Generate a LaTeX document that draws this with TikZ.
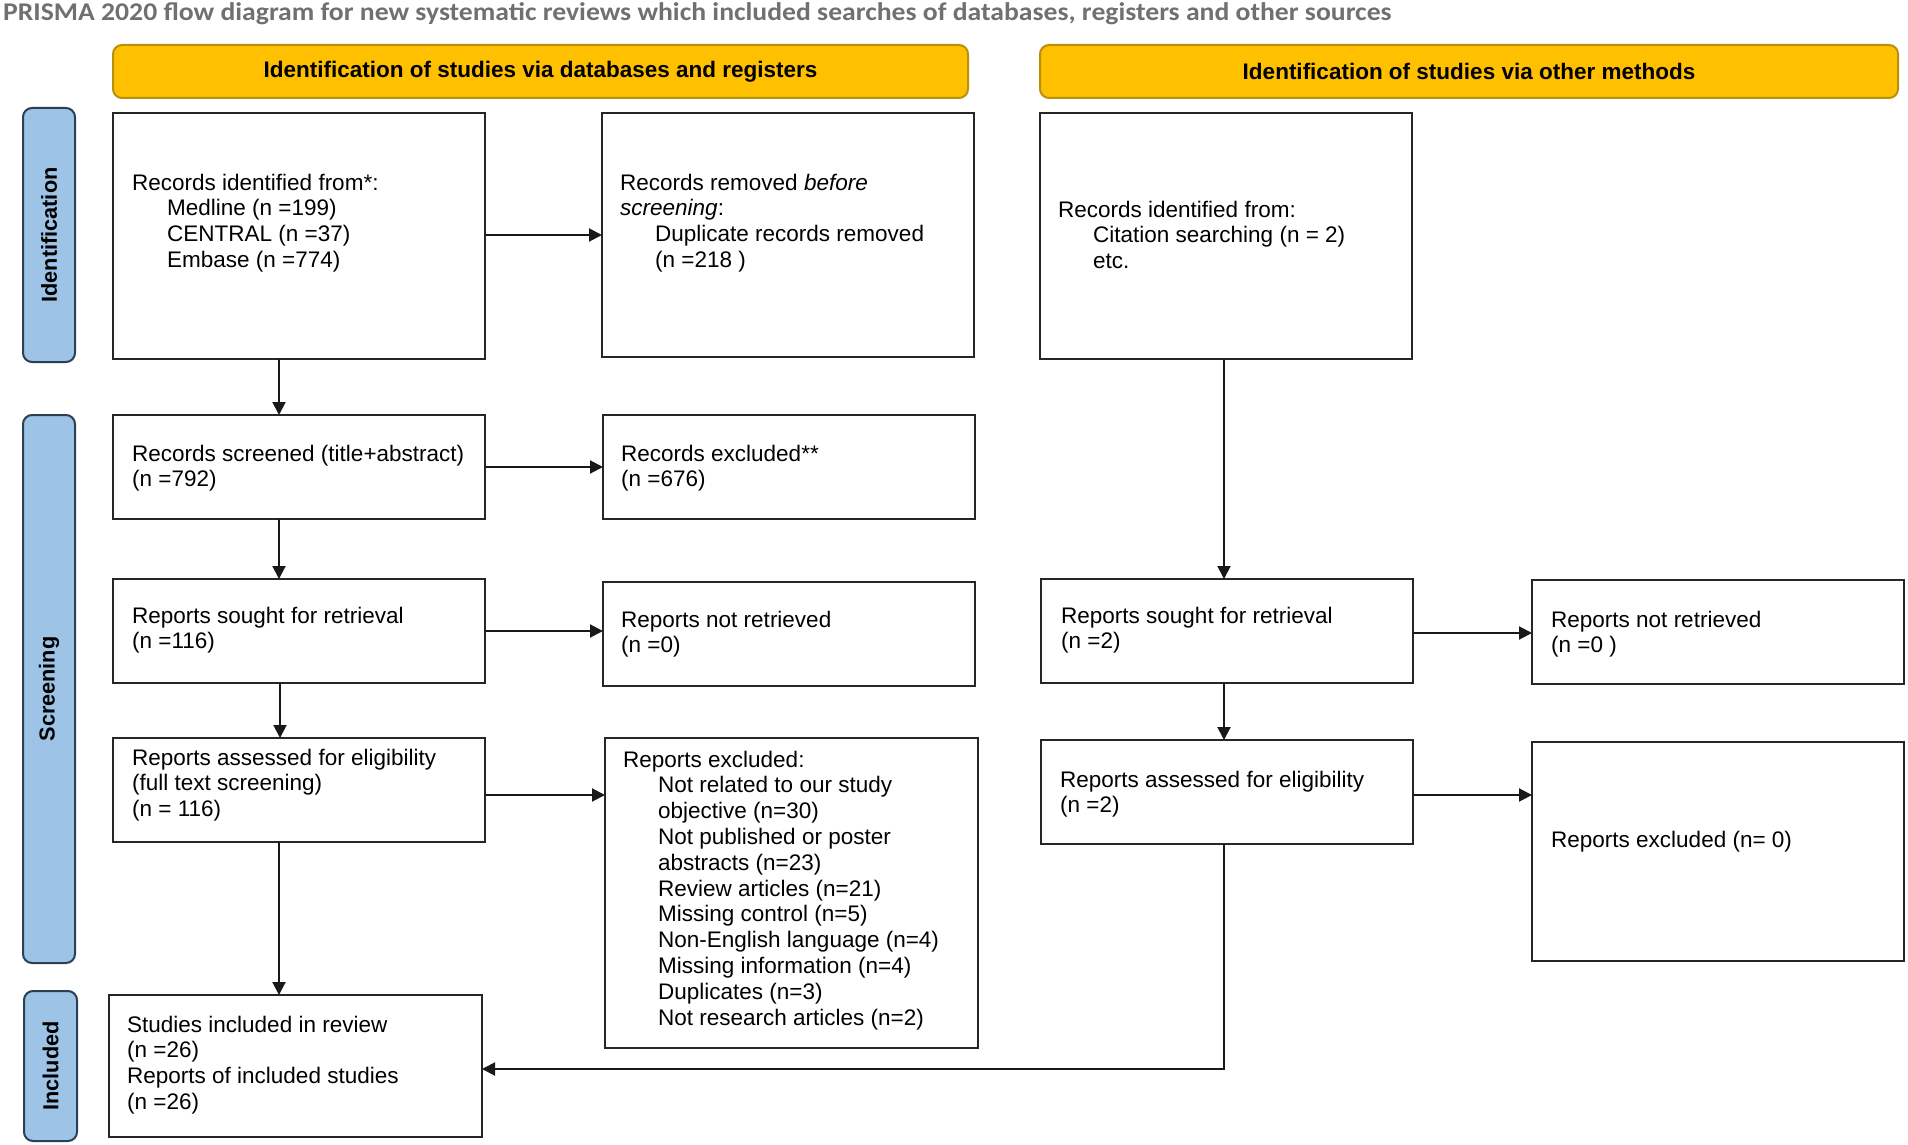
\documentclass[tikz,border=0pt]{standalone}
\usepackage{fontspec}
\setmainfont{Liberation Sans}
\newfontfamily\titlefont{Carlito}
\usetikzlibrary{arrows.meta}
\definecolor{hdr}{HTML}{FFC000}
\definecolor{hdrline}{HTML}{B8900A}
\definecolor{side}{HTML}{9DC3E6}
\definecolor{sideline}{HTML}{2B3F55}
\definecolor{ttl}{HTML}{707070}
\newcommand{\txtlines}[1]{\begin{tabular}[t]{@{}l@{}}#1\end{tabular}}
\newcommand{\ind}{\hspace*{35pt}}
\begin{document}
\begin{tikzpicture}[x=1pt,y=-1pt,
 box/.style={draw=black!85, line width=2.2pt, inner sep=0pt, outer sep=0pt},
 txt/.style={anchor=base west, inner sep=0pt, font=\fontsize{22.5}{25.8}\selectfont},
 hdrbox/.style={draw=hdrline, fill=hdr, line width=2pt, rounded corners=9pt, inner sep=0pt, minimum height=53pt, font=\bfseries\fontsize{22.5}{26}\selectfont},
 sidebox/.style={draw=sideline, fill=side, line width=2pt, rounded corners=9pt, inner sep=0pt},
 sidetxt/.style={rotate=90, inner sep=0pt, font=\bfseries\fontsize{21.7}{26}\selectfont},
 arr/.style={line width=2pt, draw=black!90, -{Triangle[length=13pt,width=13pt]}}]
\useasboundingbox (0,0) rectangle (1908,1145);

% title
\node[anchor=base west, inner sep=0pt, text=ttl, font=\titlefont\bfseries\fontsize{25.5}{29}\selectfont] (title) at (3,21)
 {\scalebox{1.085}[1]{PRISMA 2020 flow diagram for new systematic reviews which included searches of databases, registers and other sources}};

% headers
\node[hdrbox, minimum width=855pt] (h1) at (540.5,71.5) {Identification of studies via databases and registers};
\node[hdrbox, minimum width=858pt] (h2) at (1469,71.5) {Identification of studies via other methods};

% side bars
\node[sidebox, minimum width=52pt, minimum height=254pt] (s1) at (49,235) {};
\node[sidetxt] (s1t) at (s1.center) {Identification};
\node[sidebox, minimum width=52pt, minimum height=548pt] (s2) at (49,689) {};
\node[sidetxt] (s2t) at (s2.center) {Screening};
\node[sidebox, minimum width=53pt, minimum height=150pt] (s3) at (50.5,1066) {};
\node[sidetxt] (s3t) at (s3.center) {Included};

% boxes
\node[box, minimum width=372pt, minimum height=246pt] (A) at (299,236) {};
\node[box, minimum width=372pt, minimum height=244pt] (B) at (788,235) {};
\node[box, minimum width=372pt, minimum height=246pt] (C) at (1226,236) {};
\node[box, minimum width=372pt, minimum height=104pt] (D) at (299,467) {};
\node[box, minimum width=372pt, minimum height=104pt] (E) at (789,467) {};
\node[box, minimum width=372pt, minimum height=104pt] (F) at (299,631) {};
\node[box, minimum width=372pt, minimum height=104pt] (G) at (789,634) {};
\node[box, minimum width=372pt, minimum height=104pt] (H) at (299,790) {};
\node[box, minimum width=373pt, minimum height=310pt] (I) at (791.5,893) {};
\node[box, minimum width=373pt, minimum height=142pt] (J) at (295.5,1066) {};
\node[box, minimum width=372pt, minimum height=104pt] (K) at (1227,631) {};
\node[box, minimum width=372pt, minimum height=104pt] (L) at (1227,792) {};
\node[box, minimum width=372pt, minimum height=104pt] (M) at (1718,632) {};
\node[box, minimum width=372pt, minimum height=219pt] (N) at (1718,851.5) {};

% texts
\node[txt] (tA) at (132,190) {\txtlines{Records identified from*:\\
 \ind Medline (n =199)\\ \ind CENTRAL (n =37)\\ \ind Embase (n =774)}};
\node[txt] (tB) at (620,190) {\txtlines{Records removed \textit{before}\\ \textit{screening}:\\
 \ind Duplicate records removed\\ \ind (n =218 )}};
\node[txt] (tC) at (1058,217) {\txtlines{Records identified from:\\
 \ind Citation searching (n = 2)\\ \ind etc.}};
\node[txt] (tD) at (132,461) {\txtlines{Records screened (title+abstract)\\ (n =792)}};
\node[txt] (tE) at (621,461) {\txtlines{Records excluded**\\ (n =676)}};
\node[txt] (tF) at (132,623) {\txtlines{Reports sought for retrieval\\ (n =116)}};
\node[txt] (tG) at (621,627) {\txtlines{Reports not retrieved\\ (n =0)}};
\node[txt] (tH) at (132,765) {\txtlines{Reports assessed for eligibility\\ (full text screening)\\ (n = 116)}};
\node[txt] (tI) at (623,767) {\txtlines{Reports excluded:\\
 \ind Not related to our study\\ \ind objective (n=30)\\
 \ind Not published or poster\\ \ind abstracts (n=23)\\
 \ind Review articles (n=21)\\ \ind Missing control (n=5)\\
 \ind Non-English language (n=4)\\ \ind Missing information (n=4)\\
 \ind Duplicates (n=3)\\ \ind Not research articles (n=2)}};
\node[txt] (tJ) at (127,1032) {\txtlines{Studies included in review\\ (n =26)\\ Reports of included studies\\ (n =26)}};
\node[txt] (tK) at (1061,623) {\txtlines{Reports sought for retrieval\\ (n =2)}};
\node[txt] (tL) at (1060,787) {\txtlines{Reports assessed for eligibility\\ (n =2)}};
\node[txt] (tM) at (1551,627) {\txtlines{Reports not retrieved\\ (n =0 )}};
\node[txt] (tN) at (1551,847) {Reports excluded (n= 0)};

% arrows
\draw[arr] ([yshift=1pt]A.east) -- ([yshift=1pt]A.east -| B.west);
\draw[arr] (D.east) -- (D.east -| E.west);
\draw[arr] (F.east) -- (F.east -| G.west);
\draw[arr] ([yshift=-5pt]H.east) -- ([yshift=-5pt]H.east -| I.west);
\draw[arr] ([yshift=-2pt]K.east) -- ([yshift=-2pt]K.east -| M.west);
\draw[arr] ([yshift=-3pt]L.east) -- ([yshift=-3pt]L.east -| N.west);
\draw[arr] ([xshift=-20pt]A.south) -- ([xshift=-20pt]A.south |- D.north);
\draw[arr] ([xshift=-20pt]D.south) -- ([xshift=-20pt]D.south |- F.north);
\draw[arr] ([xshift=-19pt]F.south) -- ([xshift=-19pt]F.south |- H.north);
\draw[arr] ([xshift=-20pt]H.south) -- ([xshift=-20pt]H.south |- J.north);
\draw[arr] ([xshift=-2pt]C.south) -- ([xshift=-2pt]C.south |- K.north);
\draw[arr] ([xshift=-3pt]K.south) -- ([xshift=-3pt]K.south |- L.north);
\draw[arr] ([xshift=-3pt]L.south) |- ([yshift=-3pt]J.east);
\end{tikzpicture}
\end{document}
